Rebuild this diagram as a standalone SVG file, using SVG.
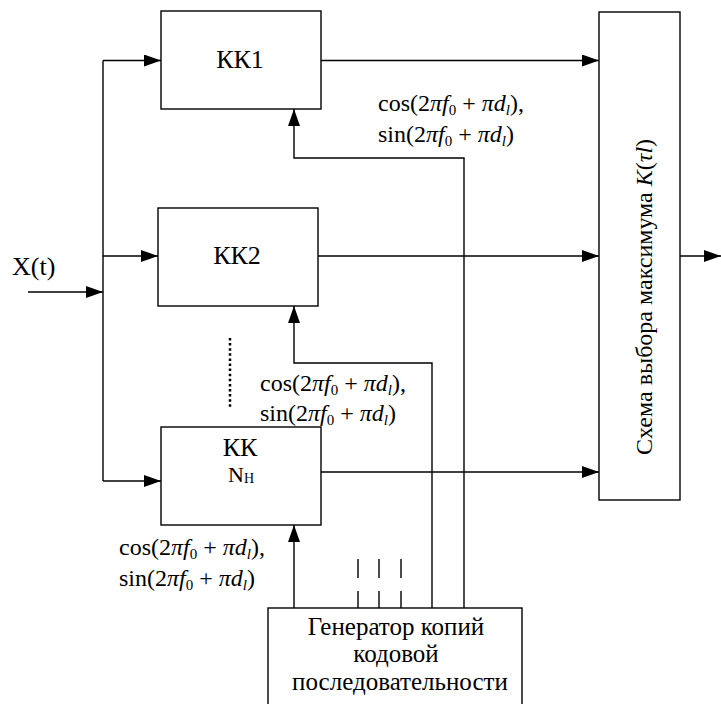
<svg xmlns="http://www.w3.org/2000/svg" width="721" height="704" viewBox="0 0 721 704">
<style>
.box{fill:#fff;stroke:#000;stroke-width:1.4}
.ln{fill:none;stroke:#000;stroke-width:1.4}
text{font-family:"Liberation Serif","Times New Roman",serif;fill:#000}
.big{font-size:26px}
.gen{font-size:25px}
.eq{font-size:24px}
.i{font-style:italic}
.sub{font-size:15px}
</style>
<defs>
<marker id="ar" markerUnits="userSpaceOnUse" markerWidth="18" markerHeight="12" refX="17" refY="6" orient="auto">
<path d="M0,0 L17,6 L0,12 Z" fill="#000"/>
</marker>
</defs>
<rect width="721" height="704" fill="#fff"/>
<g id="connectors">
<path class="ln" d="M103,60.5 V481"/>
<path class="ln" d="M103,60.5 H161" marker-end="url(#ar)"/>
<path class="ln" d="M103,256 H158" marker-end="url(#ar)"/>
<path class="ln" d="M103,481 H161" marker-end="url(#ar)"/>
<path class="ln" d="M28,292 H103" marker-end="url(#ar)"/>
<path class="ln" d="M321,60.5 H599" marker-end="url(#ar)"/>
<path class="ln" d="M318,256 H599" marker-end="url(#ar)"/>
<path class="ln" d="M321,472 H599" marker-end="url(#ar)"/>
<path class="ln" d="M680,256 H721" marker-end="url(#ar)"/>
<path class="ln" d="M464,608 V158 H294 V109" marker-end="url(#ar)"/>
<path class="ln" d="M432,608 V363 H294 V306" marker-end="url(#ar)"/>
<path class="ln" d="M294,608 V525" marker-end="url(#ar)"/>
<path class="ln" d="M358,559 V578 M379,559 V578 M401,559 V578 M358,591 V608 M379,591 V608 M401,591 V608"/>
<path d="M230,338 V408" fill="none" stroke="#000" stroke-width="2.5" stroke-dasharray="2.5 2.6"/>
</g>
<g id="kk1">
<rect class="box" x="161" y="11" width="160" height="98"/>
<text class="big" x="240" y="68" text-anchor="middle">КК1</text>
</g>
<g id="kk2">
<rect class="box" x="158" y="208" width="160" height="98"/>
<text class="big" x="237" y="264" text-anchor="middle">КК2</text>
</g>
<g id="kkn">
<rect class="box" x="161" y="427" width="160" height="98"/>
<text class="big" x="240" y="456" text-anchor="middle">КК</text>
<text x="228" y="482" font-size="22">N<tspan font-size="14" dy="1">H</tspan></text>
</g>
<g id="max">
<rect class="box" x="599" y="12" width="81" height="488"/>
<text font-size="24" transform="translate(652,297) rotate(-90)" text-anchor="middle">Схема выбора максимума <tspan class="i">K</tspan>(<tspan class="i">τl</tspan>)</text>
</g>
<g id="gen">
<rect class="box" x="268" y="608" width="254" height="100"/>
<text class="gen" x="396" y="635" text-anchor="middle">Генератор копий</text>
<text class="gen" x="396" y="662" text-anchor="middle">кодовой</text>
<text class="gen" x="400" y="690" text-anchor="middle">последовательности</text>
</g>
<g id="labels">
<text class="big" x="12" y="275">X(t)</text>
<text class="eq" x="378" y="111">cos(2<tspan class="i">πf</tspan><tspan class="sub" dy="4">0</tspan><tspan dy="-4"> + </tspan><tspan class="i">πd</tspan><tspan class="sub i" dy="4">l</tspan><tspan dy="-4">),</tspan></text>
<text class="eq" x="378" y="142">sin(2<tspan class="i">πf</tspan><tspan class="sub" dy="4">0</tspan><tspan dy="-4"> + </tspan><tspan class="i">πd</tspan><tspan class="sub i" dy="4">l</tspan><tspan dy="-4">)</tspan></text>
<text class="eq" x="260" y="391">cos(2<tspan class="i">πf</tspan><tspan class="sub" dy="4">0</tspan><tspan dy="-4"> + </tspan><tspan class="i">πd</tspan><tspan class="sub i" dy="4">l</tspan><tspan dy="-4">),</tspan></text>
<text class="eq" x="260" y="421">sin(2<tspan class="i">πf</tspan><tspan class="sub" dy="4">0</tspan><tspan dy="-4"> + </tspan><tspan class="i">πd</tspan><tspan class="sub i" dy="4">l</tspan><tspan dy="-4">)</tspan></text>
<text class="eq" x="119" y="555">cos(2<tspan class="i">πf</tspan><tspan class="sub" dy="4">0</tspan><tspan dy="-4"> + </tspan><tspan class="i">πd</tspan><tspan class="sub i" dy="4">l</tspan><tspan dy="-4">),</tspan></text>
<text class="eq" x="119" y="586">sin(2<tspan class="i">πf</tspan><tspan class="sub" dy="4">0</tspan><tspan dy="-4"> + </tspan><tspan class="i">πd</tspan><tspan class="sub i" dy="4">l</tspan><tspan dy="-4">)</tspan></text>
</g>
</svg>
